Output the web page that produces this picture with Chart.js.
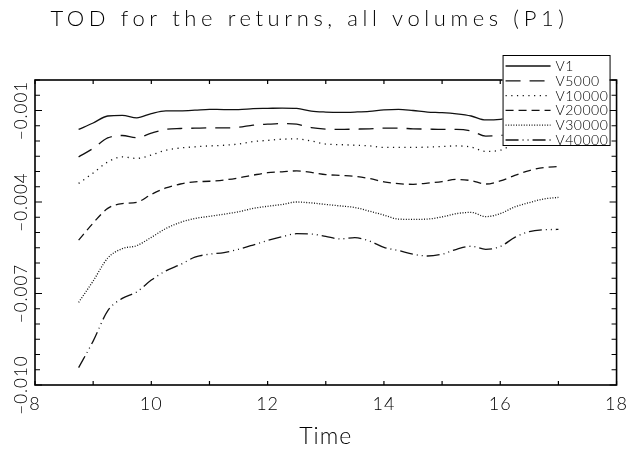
<!DOCTYPE html>
<html>
<head>
<meta charset="utf-8">
<script src="https://cdn.jsdelivr.net/npm/chart.js@4"></script>
<style>
  html, body { margin: 0; padding: 0; background: #fff; }
  #wrap { width: 635px; height: 453px; }
</style>
</head>
<body>
<div id="wrap"><canvas id="c" width="635" height="453"></canvas></div>
<script>
// Time of day (hours) and mean returns per volume bucket
const titleText = 'TOD for the returns, all volumes (P1)';
const xTitle = 'Time';
const times = [8.75, 9.0, 9.25, 9.5, 9.75, 10.0, 10.25, 10.5, 10.75, 11.0, 11.25, 11.5,
  11.75, 12.0, 12.25, 12.5, 12.75, 13.0, 13.25, 13.5, 13.75, 14.0, 14.25, 14.5,
  14.75, 15.0, 15.25, 15.5, 15.75, 16.0, 16.25, 16.5, 16.75, 17.0];

const v1 = [-0.00162, -0.00141, -0.00118, -0.00116, -0.00124, -0.00110, -0.00101, -0.00101,
  -0.00099, -0.00096, -0.00097, -0.00097, -0.00094, -0.00093, -0.00092, -0.00093, -0.00102,
  -0.00105, -0.00106, -0.00105, -0.00103, -0.00098, -0.00096, -0.00100, -0.00105, -0.00107,
  -0.00111, -0.00118, -0.00131, -0.00129, -0.00121, -0.00118, -0.00115, -0.00115];
const v5000 = [-0.00252, -0.00224, -0.00190, -0.00182, -0.00189, -0.00174, -0.00162, -0.00159,
  -0.00158, -0.00157, -0.00157, -0.00155, -0.00148, -0.00145, -0.00143, -0.00145, -0.00156,
  -0.00161, -0.00162, -0.00161, -0.00160, -0.00158, -0.00158, -0.00160, -0.00161, -0.00162,
  -0.00162, -0.00167, -0.00184, -0.00182, -0.00177, -0.00174, -0.00171, -0.00167];
const v10000 = [-0.00339, -0.00305, -0.00269, -0.00252, -0.00257, -0.00246, -0.00230, -0.00223,
  -0.00219, -0.00216, -0.00214, -0.00210, -0.00202, -0.00198, -0.00194, -0.00193, -0.00200,
  -0.00210, -0.00212, -0.00214, -0.00216, -0.00221, -0.00221, -0.00221, -0.00220, -0.00218,
  -0.00216, -0.00220, -0.00234, -0.00230, -0.00210, -0.00203, -0.00200, -0.00197];
const v20000 = [-0.00525, -0.00469, -0.00421, -0.00405, -0.00401, -0.00375, -0.00354, -0.00341,
  -0.00334, -0.00332, -0.00328, -0.00321, -0.00312, -0.00304, -0.00301, -0.00298, -0.00303,
  -0.00310, -0.00313, -0.00316, -0.00323, -0.00334, -0.00340, -0.00342, -0.00338, -0.00333,
  -0.00326, -0.00330, -0.00341, -0.00331, -0.00313, -0.00297, -0.00287, -0.00284];
const v30000 = [-0.00729, -0.00659, -0.00584, -0.00553, -0.00543, -0.00516, -0.00487, -0.00467,
  -0.00454, -0.00447, -0.00440, -0.00432, -0.00421, -0.00414, -0.00408, -0.00400, -0.00403,
  -0.00408, -0.00413, -0.00418, -0.00430, -0.00443, -0.00456, -0.00457, -0.00456, -0.00449,
  -0.00438, -0.00434, -0.00448, -0.00438, -0.00416, -0.00402, -0.00390, -0.00385];
const v40000 = [-0.00943, -0.00856, -0.00757, -0.00716, -0.00695, -0.00656, -0.00626, -0.00605,
  -0.00581, -0.00571, -0.00566, -0.00555, -0.00541, -0.00526, -0.00514, -0.00504, -0.00505,
  -0.00513, -0.00521, -0.00517, -0.00528, -0.00549, -0.00559, -0.00571, -0.00577, -0.00571,
  -0.00555, -0.00545, -0.00555, -0.00546, -0.00516, -0.00497, -0.00491, -0.00490];

const seriesNames = ['V1', 'V5000', 'V10000', 'V20000', 'V30000', 'V40000'];
const seriesValues = [v1, v5000, v10000, v20000, v30000, v40000];

// Labelled ticks on each axis
const yTickLabels = [-0.010, -0.007, -0.004, -0.001];
const xTickLabels = [8, 10, 12, 14, 16, 18];

// Line patterns: solid, long dash, dotted, dashed, fine dots, dash-dot-dot
const dashes = [[], [15, 9], [1.2, 4.5], [8, 5], [1, 1.6], [13, 4, 1, 4, 1, 4]];

const FONT = 'Lato, "DejaVu Sans", sans-serif';

const datasets = seriesNames.map((name, i) => ({
  label: name,
  data: times.map((t, k) => ({ x: t, y: seriesValues[i][k] })),
  borderColor: '#111',
  borderWidth: 1.3,
  borderDash: dashes[i],
  pointRadius: 0,
  fill: false,
  cubicInterpolationMode: 'monotone'
}));

const near = (a, b) => Math.abs(a - b) < 1e-7;

// Box frame with inward ticks on all four sides, and the boxed legend
const framePlugin = {
  id: 'frame',
  afterInit(chart) {
    const tb = chart.titleBlock;
    if (tb) {
      const orig = tb.draw.bind(tb);
      tb.draw = function (...args) {
        const c = chart.ctx;
        const prev = c.letterSpacing;
        c.letterSpacing = '4.6px';
        orig(...args);
        c.letterSpacing = prev;
      };
    }
  },
  beforeDraw(chart) {
    chart.ctx.letterSpacing = '1px';
  },
  afterDatasetsDraw(chart) {
    const { ctx, chartArea: a, scales: { x, y } } = chart;
    ctx.save();
    ctx.setLineDash([]);
    ctx.strokeStyle = '#000';
    ctx.lineWidth = 1.6;
    ctx.strokeRect(a.left, a.top, a.right - a.left, a.bottom - a.top);
    ctx.lineWidth = 1.2;
    ctx.beginPath();
    x.ticks.forEach(t => {
      const px = x.getPixelForValue(t.value);
      const len = 4;
      ctx.moveTo(px, a.bottom); ctx.lineTo(px, a.bottom - len);
      ctx.moveTo(px, a.top); ctx.lineTo(px, a.top + len);
    });
    y.ticks.forEach(t => {
      const py = y.getPixelForValue(t.value);
      const len = yTickLabels.some(v => near(v, t.value)) ? 7 : 5;
      ctx.moveTo(a.left, py); ctx.lineTo(a.left + len, py);
      ctx.moveTo(a.right, py); ctx.lineTo(a.right - len, py);
    });
    ctx.stroke();
    ctx.restore();
  },
  afterDraw(chart) {
    const { ctx, chartArea: a } = chart;
    const left = a.right - 114, top = a.top - 25, w = 107, h = 90;
    ctx.save();
    ctx.fillStyle = '#fff';
    ctx.fillRect(left, top, w, h);
    ctx.setLineDash([]);
    ctx.strokeStyle = '#000';
    ctx.lineWidth = 1;
    ctx.strokeRect(left + 0.5, top + 0.5, w, h);
    ctx.font = '300 14px ' + FONT;
    ctx.letterSpacing = '0.5px';
    ctx.textBaseline = 'middle';
    ctx.fillStyle = '#000';
    chart.data.datasets.forEach((ds, i) => {
      const yy = top + 11 + i * 14.8;
      ctx.beginPath();
      ctx.setLineDash(ds.borderDash);
      ctx.lineWidth = ds.borderWidth;
      ctx.strokeStyle = ds.borderColor;
      ctx.moveTo(left + 3, yy);
      ctx.lineTo(left + 48, yy);
      ctx.stroke();
      ctx.fillText(ds.label, left + 53, yy + 0.5);
    });
    ctx.restore();
  }
};

new Chart(document.getElementById('c'), {
  type: 'line',
  data: { datasets },
  plugins: [framePlugin],
  options: {
    responsive: false,
    animation: false,
    events: [],
    layout: { padding: { left: 0, right: 16, top: 0, bottom: 0 } },
    plugins: {
      legend: { display: false },
      tooltip: { enabled: false },
      title: {
        display: true,
        text: titleText,
        color: '#000',
        font: { family: FONT, size: 22, weight: '300', lineHeight: 1.2 },
        padding: { top: 6, bottom: 47.6 }
      }
    },
    scales: {
      x: {
        type: 'linear',
        min: 8,
        max: 18,
        grid: { display: false, drawTicks: false },
        border: { display: false },
        afterFit: s => { s.height = 68; },
        ticks: {
          stepSize: 1,
          autoSkip: false,
          maxRotation: 0,
          padding: 8,
          color: '#000',
          font: { family: FONT, size: 18, weight: '300' },
          callback: v => xTickLabels.some(t => near(t, v)) ? String(v) : ''
        },
        title: {
          display: true,
          text: xTitle,
          color: '#000',
          font: { family: FONT, size: 23, weight: '300', lineHeight: 1.2 },
          padding: { top: 0, bottom: 3 }
        }
      },
      y: {
        type: 'linear',
        min: -0.010,
        max: 0,
        grid: { display: false, drawTicks: false },
        border: { display: false },
        afterFit: s => { s.width = 35; },
        ticks: {
          stepSize: 0.0005,
          autoSkip: false,
          minRotation: 90,
          maxRotation: 90,
          crossAlign: 'center',
          padding: -13,
          color: '#000',
          font: { family: FONT, size: 17, weight: '300' },
          callback: v => {
            const hit = yTickLabels.find(t => near(t, v));
            return hit === undefined ? '' : '\u2212' + Math.abs(hit).toFixed(3);
          }
        }
      }
    }
  }
});
</script>
</body>
</html>
